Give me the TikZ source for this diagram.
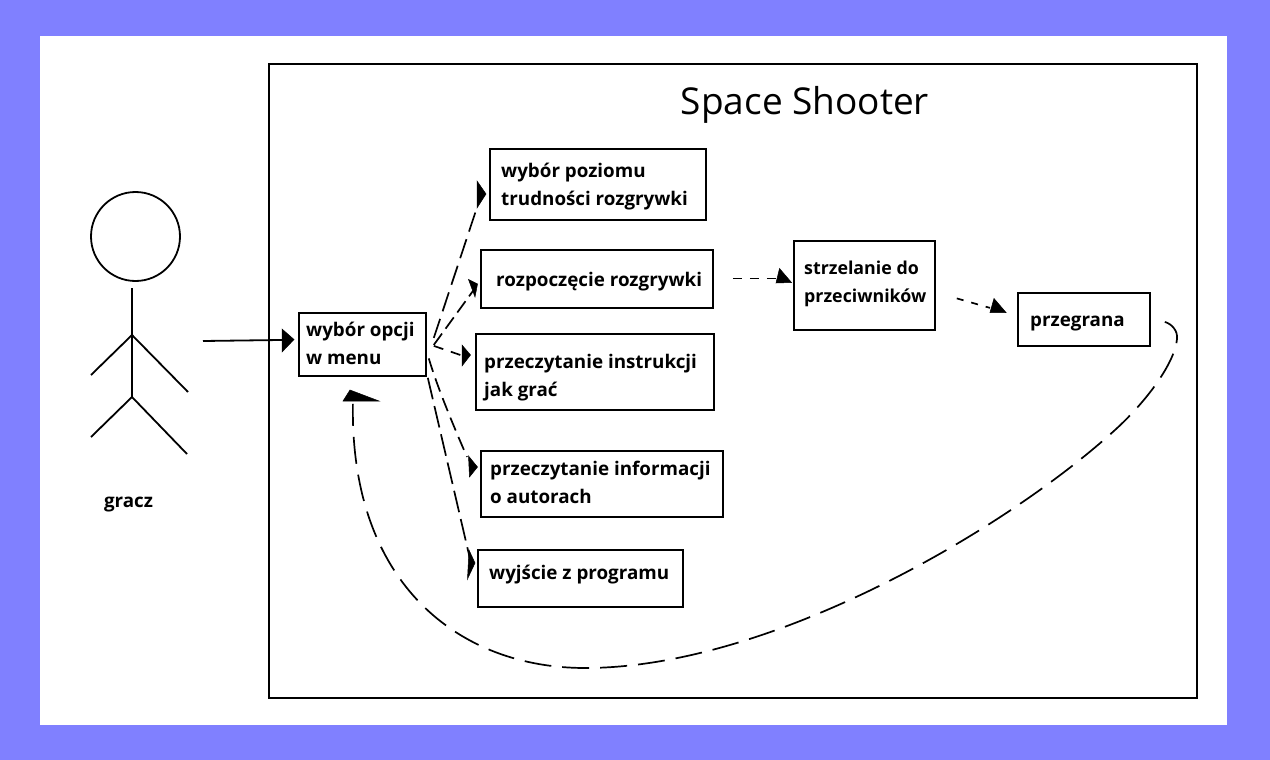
\documentclass[tikz,border=0pt]{standalone}
\usepackage{fontspec}
\setmainfont{Open Sans}
\definecolor{bgblue}{HTML}{8080FF}
\tikzset{
  x=1pt,y=-1pt,
  line/.style={draw=black,line width=1.8pt},
  boxnode/.style={line,fill=white,rectangle,inner sep=0pt,anchor=north west},
  txt/.style={font=\fontsize{18.8}{28}\selectfont\bfseries,anchor=west,align=left,inner sep=0pt},
  dashline/.style={draw=black,line width=1.7pt,dash pattern=on #1},
  head/.style={fill=black,draw=black,line width=0.5pt,line join=miter}
}
\begin{document}
\begin{tikzpicture}
\useasboundingbox (0,0) rectangle (1270,760);
\fill[bgblue] (0,0) rectangle (1270,760);
\fill[white] (40,36) rectangle (1227,725);
\node[boxnode,minimum width=928pt,minimum height=634pt] (frame) at (268,63) {};
\node[font=\fontsize{37}{40}\selectfont,anchor=center] (title) at (805,105) {Space Shooter};
% actor
\node[line,circle,minimum size=89pt,inner sep=0pt] (head) at (135.5,236.5) {};
\coordinate (neck) at (132,288);
\coordinate (shoulder) at (132,335);
\coordinate (hip) at (132,397);
\coordinate (handl) at (91,375);
\coordinate (handr) at (188,392);
\coordinate (footl) at (91,437);
\coordinate (footr) at (187,454);
\coordinate (actor) at (203,341);
\draw[line] (neck) -- (hip);
\draw[line] (handl) -- (shoulder) -- (handr);
\draw[line] (footl) -- (hip) -- (footr);
\node[txt,anchor=center] (gracz) at (128.5,505) {gracz};
% boxes
\node[boxnode,minimum width=127pt,minimum height=63pt] (menu) at (298,312) {};
\node[boxnode,minimum width=216pt,minimum height=71pt] (diff) at (489,148) {};
\node[boxnode,minimum width=232pt,minimum height=58pt] (start) at (480,249) {};
\node[boxnode,minimum width=238pt,minimum height=76pt] (instr) at (475,333) {};
\node[boxnode,minimum width=242pt,minimum height=66pt] (info) at (480,450) {};
\node[boxnode,minimum width=205pt,minimum height=57pt] (exit) at (477,549) {};
\node[boxnode,minimum width=141pt,minimum height=89pt] (shoot) at (793,240) {};
\node[boxnode,minimum width=132pt,minimum height=53pt] (lose) at (1017,292) {};
% texts
\node[txt] (tmenu) at (306,343.5) {wybór opcji\\w menu};
\node[txt] (tdiff) at (501,186.5) {wybór poziomu\\trudności rozgrywki};
\node[txt] (tstart) at (496,282) {rozpoczęcie rozgrywki};
\node[txt] (tinstr) at (484,378) {przeczytanie instrukcji\\jak grać};
\node[txt] (tinfo) at (490,482) {przeczytanie informacji\\o autorach};
\node[txt] (texit) at (489,575) {wyjście z programu};
\node[txt,font=\fontsize{17.8}{28}\selectfont\bfseries] (tshoot) at (804,283.5) {strzelanie do\\przeciwników};
\node[txt] (tlose) at (1030,324) {przegrana};
% connectors
\draw[line] (actor) -- ([shift={(-10,-4.5)}]menu.west);
\draw[dashline={20pt off 8pt}] ([shift={(7,-6.5)}]menu.east) -- ([shift={(-12,23)}]diff.west);
\draw[dashline={14pt off 6pt}] ([shift={(7,0.5)}]menu.east) -- ([shift={(-7,12)}]start.west);
\draw[dashline={10pt off 8pt}] ([shift={(7,1.5)}]menu.east) -- ([shift={(-12,-16)}]instr.west);
\draw[dashline={14pt off 7pt}] ([shift={(2,14)}]menu.east) .. controls (436,383) and (450,418) .. ([shift={(-13,-27)}]info.west);
\draw[dashline={22pt off 7pt}] ([shift={(1,1)}]menu.south east) -- ([shift={(-7,-19.5)}]exit.west);
\draw[dashline={9pt off 8pt}] ([shift={(19,-0.3)}]start.east) -- ([shift={(-15,-6.8)}]shoot.west);
\draw[dashline={7pt off 8pt}] ([shift={(21,13)}]shoot.east) -- ([shift={(-27,-11.5)}]lose.west);
\draw[dashline={27pt off 11pt}] ([shift={(14,2.5)}]lose.east)
  .. controls (1172,324) and (1178,331) .. (1177,339)
  .. controls (1175,362) and (1148,400) .. (1115,430)
  .. controls (1005,530) and (770,668) .. (585,668)
  .. controls (460,668) and (350,585) .. ([shift={(-9.5,27)}]menu.south);
% arrowheads
\fill[head] (294,339.5) -- (282,329) -- (282,352) -- cycle;
\fill[head] (486,194) -- (477,181) -- (477,208) -- cycle;
\fill[head] (477.5,284) -- (468.5,279.5) -- (475,297) -- cycle;
\fill[head] (470.5,355) -- (462,345) -- (462,366) -- cycle;
\fill[head] (477.5,467) -- (468.5,456) -- (469.5,477) -- cycle;
\fill[head] (475,563) -- (469,550) -- (467.5,579) -- cycle;
\fill[head] (791.5,282.5) -- (779.5,268.5) -- (776,283) -- cycle;
\fill[head] (1006,312.5) -- (994,298.5) -- (990,312.5) -- cycle;
\fill[head] (350,390) -- (343,401) -- (379,401) -- cycle;
\end{tikzpicture}
\end{document}
